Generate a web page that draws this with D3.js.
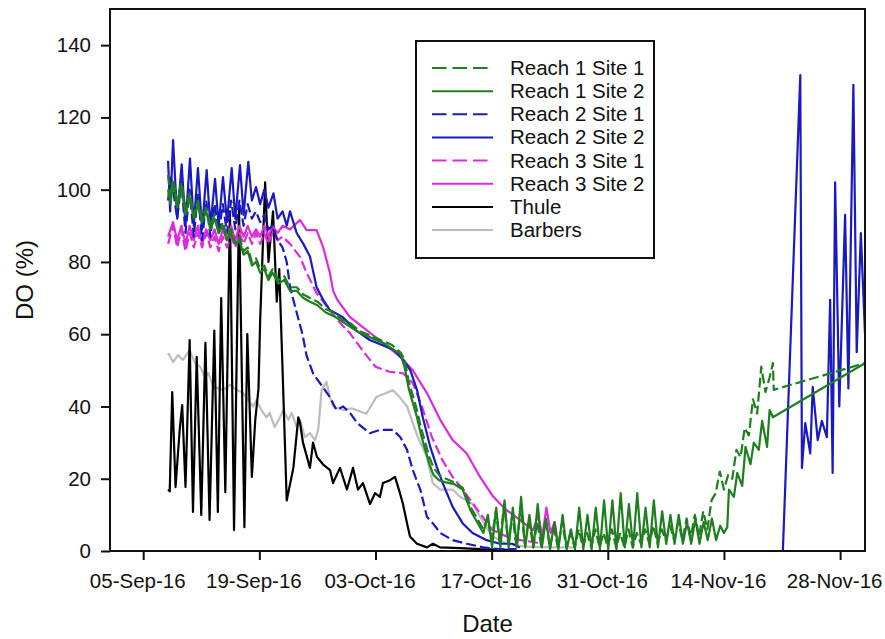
<!DOCTYPE html>
<html>
<head>
<meta charset="utf-8">
<script src="https://cdn.jsdelivr.net/npm/d3@7"></script>
<style>
  html, body { margin: 0; padding: 0; background: #fff; }
  svg text { font-family: Arial, "Liberation Sans", sans-serif; fill: #111; }
</style>
</head>
<body>
<svg id="chart" width="885" height="639"></svg>
<script>
// Dissolved oxygen (% saturation) logged at each site, autumn 2016.
// Each point is [days after 1 Sep 2016, DO %].
const seriesNames = ["Reach 1 Site 1", "Reach 1 Site 2", "Reach 2 Site 1", "Reach 2 Site 2",
                     "Reach 3 Site 1", "Reach 3 Site 2", "Thule", "Barbers"];
const yTicks = [0, 20, 40, 60, 80, 100, 120, 140];
const xTickDates = ["2016-09-05", "2016-09-19", "2016-10-03", "2016-10-17", "2016-10-31", "2016-11-14", "2016-11-28"];

const reach1Site1 = [
  [7.0,104],[7.3,98],[7.6,103],[8.1,97],[8.6,102],[9.1,95],[9.6,99],[10.1,93],[10.6,97],[11.1,92],
  [11.6,95],[12.1,90],[12.6,93],[13.1,88],[13.6,91],[14.1,87],[14.6,89],[15.1,85],[15.6,87],[16.1,83],
  [16.6,84],[17.1,80],[17.6,81],[18.1,78],[18.6,79],[19.1,76],[19.6,78],[20.3,75],[21.0,76],[21.7,73],
  [22.5,73],[23.3,71],[24.1,70],[25.0,69],[26.0,67],[27.0,66],[28.0,64],[29.0,63],[30.0,61],[31.0,60],
  [32.0,59],[33.0,58],[34.0,57],[35.0,55],[35.5,53],[36.0,47],[36.5,43],[37.0,39],[37.5,34],[38.0,30],
  [38.5,26],[39.0,23],[39.7,21],[40.5,20],[41.5,19],[42.5,17.5],[43.0,15],[43.5,12],[44.0,10],[44.5,8],
  [45.0,6],[45.5,9],[46.0,3],[46.5,11],[47.0,2],[47.5,13],[48.0,2],[48.5,10],[49.0,1],[49.5,12],
  [50.0,2],[50.5,9],[51.0,1],[51.5,8],[52.0,1],[52.5,9],[53.0,1],[53.5,6],[54.0,1],[54.5,8],
  [55.0,1],[55.5,5],[56.0,1],[56.5,6],[57.0,1],[57.5,5],[58.0,1],[58.5,6],[59.0,1],[59.5,5],
  [60.0,1],[60.5,6],[61.0,1],[61.5,5],[62.0,1],[62.5,6],[63.0,1],[63.5,5],[64.0,2],[64.5,6],
  [65.0,2],[65.5,7],[66.0,2],[66.5,6],[67.0,3],[67.5,7],[68.0,3],[68.5,8],[69.0,3],[69.5,9],
  [70.0,4],[70.5,10],[71.0,4],[71.5,11],[72.0,6],[72.5,14],[73.0,16],[73.5,22],[74.0,17],[74.5,21],
  [75.0,20],[75.5,28],[76.0,26],[76.5,34],[77.0,32],[77.5,42],[78.0,38],[78.5,51],[79.0,44],[79.5,48],
  [79.9,52],[80.0,44.6],[91.0,52]
];

const reach1Site2 = [
  [7.0,100],[7.3,96],[7.6,102],[8.1,95],[8.6,101],[9.1,93],[9.6,98],[10.1,92],[10.6,96],[11.1,91],
  [11.6,94],[12.1,89],[12.6,92],[13.1,88],[13.6,90],[14.1,86],[14.6,88],[15.1,85],[15.6,86],[16.1,82],
  [16.6,83],[17.1,79],[17.6,80],[18.1,77],[18.6,78],[19.1,75],[19.6,77],[20.3,74],[21.0,75],[21.7,72],
  [22.5,72],[23.3,70],[24.1,69],[25.0,68],[26.0,66],[27.0,65],[28.0,63.5],[29.0,62],[30.0,60.5],[31.0,59.5],
  [32.0,58.5],[33.0,57.5],[34.0,56],[35.0,54.5],[35.5,51],[36.0,45],[36.5,41],[37.0,37],[37.5,32],[38.0,28],
  [38.5,24],[39.0,21],[39.7,19.5],[40.5,19],[41.5,18.5],[42.5,17],[43.0,14],[43.5,11],[44.0,9],[44.5,7],
  [45.0,5],[45.55,10],[46.05,1],[46.55,12],[47.05,1],[47.55,14],[48.05,1],[48.55,12],[49.05,1],[49.55,15],
  [50.05,1],[50.55,10],[51.05,1],[51.55,13],[52.05,1],[52.55,9],[53.05,0.5],[53.55,8],[54.05,0.5],[54.55,10],
  [55.05,0.5],[55.55,6],[56.05,0.5],[56.55,12],[57.05,0.5],[57.55,10],[58.05,0.5],[58.55,12],[59.05,0.5],[59.55,14],
  [60.05,0.5],[60.55,14],[61.05,0.5],[61.55,16],[62.05,1],[62.55,13],[63.05,1],[63.55,16],[64.05,1],[64.55,12],
  [65.05,1],[65.55,14],[66.05,1],[66.55,11],[67.05,2],[67.55,10],[68.05,2],[68.55,10],[69.05,2],[69.55,8],
  [70.05,2],[70.55,9],[71.05,2],[71.55,8],[72.05,3],[72.55,9],[73.05,3],[73.55,7],[74.0,5],[74.4,6.6],
  [74.6,17],[75.2,15],[75.6,21.6],[76.2,18],[76.6,28.8],[77.2,24],[77.6,30],[78.2,28],[78.6,36],[79.2,28.8],
  [79.5,39],[79.9,37],[91.0,52]
];

const reach2Site1 = [
  [7.0,97],[7.3,104],[7.6,100],[8.1,92],[8.6,102],[9.1,88],[9.6,100],[10.1,87],[10.6,99],[11.1,86],
  [11.6,97],[12.1,87],[12.6,96],[13.1,88],[13.6,96],[14.1,88],[14.6,97],[15.1,89],[15.6,97],[16.1,90],
  [16.6,96],[17.1,92],[17.6,94],[18.1,91],[18.6,93],[19.1,89],[19.6,90],[20.2,86],[20.8,84],[21.3,80],
  [21.7,73],[22.5,66],[23.2,60],[23.7,54],[24.5,49],[25.3,46.5],[26.5,42.6],[27.3,39],[28.1,40],[29.0,38],
  [29.8,35.4],[31.3,32.6],[32.5,33.5],[34.1,33.5],[35.0,31.5],[35.8,28],[36.5,22.4],[37.4,17],[38.2,9.5],[38.9,7.7],
  [39.8,5],[41.3,3],[43.0,2],[45.0,1],[47.0,0.5],[49.0,0.5]
];

const reach2Site2 = [
  [7.0,108],[7.25,94],[7.6,113.7],[8.1,92],[8.64,107],[9.1,90],[9.64,108.6],[10.1,90],[10.6,106],[11.1,89],
  [11.65,105.4],[12.1,90],[12.66,103],[13.1,90],[13.62,103.5],[14.1,91],[14.67,106],[15.1,92],[15.67,106.8],[16.1,93],
  [16.67,107.7],[17.1,97],[17.6,100.7],[18.1,96],[18.6,100],[19.1,95],[19.7,99],[20.2,92],[20.8,94],[21.3,90],
  [21.7,94],[22.5,88],[23.3,85],[24.1,81.5],[24.9,73],[25.7,69.5],[26.5,66.7],[28.0,64.8],[29.7,61],[31.3,58.4],
  [32.8,57],[34.2,55.6],[35.4,52.8],[36.2,50],[37.0,44.6],[37.7,37],[38.6,28.8],[39.4,23.2],[40.1,18.8],[41.3,12.2],
  [42.5,7.7],[43.7,5],[45.4,3],[47.0,2],[48.5,2],[49.4,1],
  null,
  [81.1,0],[83.2,131.7],[83.4,23],[83.8,35.4],[84.4,27],[84.7,45.4],[85.3,30.7],[85.8,36],[86.4,31.5],[86.8,69.5],
  [87.1,21.6],[87.4,102],[87.9,40],[88.6,93],[89.0,45],[89.6,129],[90.0,55],[90.5,88],[91.0,60]
];

const reach3Site1 = [
  [7.0,85],[7.6,90],[8.1,84],[8.6,89],[9.1,83],[9.6,88],[10.1,84],[10.6,88],[11.1,84],[11.6,88],
  [12.1,84],[12.6,87],[13.1,83],[13.6,87],[14.1,84],[14.6,87],[15.1,84],[15.6,88],[16.1,85],[16.6,88],
  [17.1,85],[17.6,88],[18.1,85],[18.6,88],[19.1,85],[19.6,88],[20.2,86],[20.8,87],[21.7,85],[22.9,81.4],
  [23.7,77],[24.9,71.4],[26.2,67.5],[27.4,64],[28.9,60.3],[30.6,55],[32.0,51],[33.7,49.6],[35.3,49.2],[36.5,46.5],
  [37.6,40],[38.8,31.5],[40.1,25],[41.3,20.5],[42.5,17],[43.7,13.3],[44.9,9.5],[46.1,5.8],[47.8,4],[49.5,3],
  [51.0,2.5],[52.0,2]
];

const reach3Site2 = [
  [7.0,87],[7.6,91],[8.1,86],[8.6,90],[9.1,85],[9.6,90],[10.1,86],[10.6,90],[11.1,85],[11.6,89],
  [12.1,86],[12.6,89],[13.1,85],[13.6,89],[14.1,86],[14.6,90],[15.1,86],[15.6,90],[16.1,87],[16.6,90],
  [17.1,87],[17.6,89],[18.1,87],[18.6,90],[19.1,87],[19.6,90],[20.2,88],[20.8,90],[21.7,89],[22.9,91.6],
  [23.7,88.8],[24.9,88.8],[25.7,84],[26.5,77],[26.9,72],[27.4,69.5],[28.9,64.8],[31.0,61],[32.9,57.6],[35.0,53.7],
  [36.5,50],[38.2,43.7],[39.8,36.3],[41.3,30.7],[43.0,27],[44.6,20.5],[46.2,15],[47.8,11.3],[49.4,8.6],[51.0,5.8],
  [51.6,10],[52.1,4],[52.6,12],[53.1,5],[53.6,8],[54.0,2]
];

const thule = [
  [7.0,17],[7.2,16.5],[7.5,44],[7.9,17.7],[8.4,33.5],[8.7,40.4],[9.1,17.7],[9.6,58.4],[10.0,10.8],[10.45,53.7],
  [11.0,10],[11.5,57.6],[12.0,8.6],[12.57,61],[13.0,10.8],[13.4,70],[13.9,16.3],[14.46,94],[14.95,5.8],[15.55,95],
  [16.2,6.6],[16.55,60],[17.1,20.5],[17.5,36],[17.9,45],[18.1,64],[18.7,102],[19.1,80],[19.65,94],[20.1,69],
  [20.4,78],[20.8,50],[21.3,14],[22.1,23],[22.7,37],[22.9,35.5],[23.26,30],[24.1,23],[24.47,30],[24.95,26],
  [25.67,24],[26.52,22.4],[26.88,18.8],[27.72,23],[28.56,17],[29.29,23],[29.89,17],[30.49,18.8],[31.34,13],[31.94,16],
  [32.54,15],[32.9,18.8],[33.75,19.6],[34.35,20.5],[34.95,16],[35.31,13],[35.8,7.7],[36.16,4],[37.0,2],[38.2,1],
  [38.93,2],[39.77,1],[42.2,0.8],[44.6,0.5],[48.2,0.3]
];

const barbers = [
  [7.0,54.8],[7.6,52.3],[8.2,54.2],[8.8,52.9],[9.6,55.6],[10.25,52],[10.85,51],[11.45,48.2],[11.85,49.3],[12.45,45.4],
  [13.05,45],[13.65,44.6],[14.45,46],[15.25,44.6],[16.05,43.7],[16.65,41.8],[17.25,40],[17.65,41.8],[18.25,39],[18.85,37],
  [19.25,38.2],[19.85,34.3],[20.5,37],[20.9,39],[21.5,36.3],[21.9,38.2],[22.5,34.3],[22.9,36.3],[23.5,31.5],[24.1,32.6],
  [24.7,30.7],[25.1,33.5],[25.5,44.6],[26.1,46.8],[26.5,42.6],[26.9,40],[28.1,39],[29.1,39.5],[30.9,38],[32.1,42.6],
  [34.1,44.5],[34.9,42.6],[35.8,40],[37.1,31.5],[38.2,26],[38.9,18.8],[39.8,17],[41.3,17],[42.2,15],[43.7,13],
  [44.6,9.5],[46.1,4],[47.8,2],[50.0,1.2],[53.0,1],[56.0,1]
];

const seriesData = [reach1Site1, reach1Site2, reach2Site1, reach2Site2, reach3Site1, reach3Site2, thule, barbers];
const seriesColors = ["#1f7f1f", "#1f7f1f", "#1a1ac0", "#1a1ac0", "#dc2adc", "#dc2adc", "#000000", "#bdbdbd"];
const seriesDashed = [true, false, true, false, true, false, false, false];

const W = 885, H = 639;
const margin = { top: 9, right: 20, bottom: 88, left: 110 };
const innerW = W - margin.left - margin.right;
const innerH = H - margin.top - margin.bottom;

const origin = Date.UTC(2016, 8, 1);
const toDate = d => new Date(origin + d * 86400000);

const x = d3.scaleUtc()
  .domain([new Date(Date.UTC(2016, 8, 1)), new Date(Date.UTC(2016, 11, 1))])
  .range([0, innerW]);
const y = d3.scaleLinear().domain([0, 150]).range([innerH, 0]);

const svg = d3.select("#chart");
const g = svg.append("g").attr("transform", `translate(${margin.left},${margin.top})`);

g.append("clipPath").attr("id", "plot-clip")
  .append("rect").attr("width", innerW).attr("height", innerH);

const line = d3.line()
  .defined(p => p !== null)
  .x(p => x(toDate(p[0])))
  .y(p => y(p[1]));

const plot = g.append("g").attr("clip-path", "url(#plot-clip)");
// Draw in reverse so the Reach 1 lines sit on top, as in the legend order.
d3.range(seriesData.length).reverse().forEach(i => {
  plot.append("path")
    .datum(seriesData[i])
    .attr("fill", "none")
    .attr("stroke", seriesColors[i])
    .attr("stroke-width", 2.2)
    .attr("stroke-linejoin", "round")
    .attr("stroke-dasharray", seriesDashed[i] ? "10,4" : null)
    .attr("d", line);
});

// Frame
g.append("rect")
  .attr("width", innerW).attr("height", innerH)
  .attr("fill", "none").attr("stroke", "#111").attr("stroke-width", 2);

// Axes
const fmt = d3.utcFormat("%d-%b-%y");
const xAxis = d3.axisBottom(x)
  .tickValues(xTickDates.map(s => new Date(s + "T00:00:00Z")))
  .tickFormat(fmt).tickSize(9).tickPadding(13);
const yAxis = d3.axisLeft(y).tickValues(yTicks).tickSize(9).tickPadding(10);

const gx = g.append("g").attr("transform", `translate(0,${innerH})`).call(xAxis);
const gy = g.append("g").call(yAxis);
[gx, gy].forEach(a => {
  a.select(".domain").remove();
  a.selectAll(".tick line").attr("stroke", "#111").attr("stroke-width", 2);
  a.selectAll(".tick text").attr("font-size", 20.5).attr("fill", "#111")
    .style("font-family", "Arial, 'Liberation Sans', sans-serif");
});
gx.selectAll(".tick text").attr("dx", -6);

// Axis titles, centred on the plot frame
svg.append("text").attr("x", margin.left + innerW / 2).attr("y", 632).attr("text-anchor", "middle")
  .attr("font-size", 24).text("Date");
svg.append("text").attr("transform", `translate(33,${margin.top + innerH / 2}) rotate(-90)`)
  .attr("text-anchor", "middle").attr("font-size", 24).text("DO (%)");

// Legend
const legend = svg.append("g");
legend.append("rect").attr("x", 416).attr("y", 41).attr("width", 238).attr("height", 217)
  .attr("fill", "#fff").attr("stroke", "#111").attr("stroke-width", 2);
seriesNames.forEach((name, i) => {
  const cy = 68 + i * 23.15;
  legend.append("line")
    .attr("x1", 432).attr("x2", seriesDashed[i] ? 488 : 493)
    .attr("y1", cy).attr("y2", cy)
    .attr("stroke", seriesColors[i]).attr("stroke-width", 2)
    .attr("stroke-dasharray", seriesDashed[i] ? "14.5,6" : null);
  legend.append("text").attr("x", 510).attr("y", cy + 7)
    .attr("font-size", 20.5).text(name);
});
</script>
</body>
</html>
